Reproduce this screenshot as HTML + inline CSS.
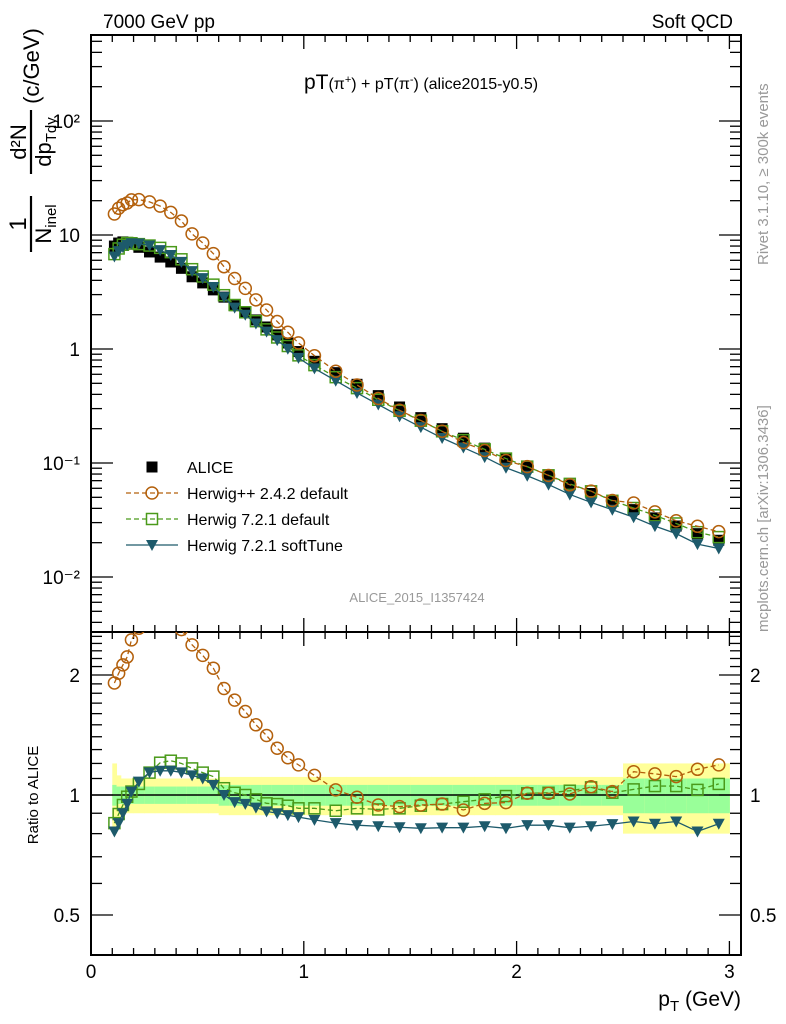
<!DOCTYPE html>
<html><head><meta charset="utf-8"><style>
html,body{margin:0;padding:0;background:#fff;}
svg{display:block;font-family:"Liberation Sans",sans-serif;}
</style></head><body>
<svg id="chart" width="786" height="1024" viewBox="0 0 786 1024" xmlns="http://www.w3.org/2000/svg">
<g id="bands"></g>
<g id="grid"></g>
<g id="series"></g>
<text x="103" y="28" font-size="19">7000 GeV pp</text>
<text x="733" y="28" font-size="19" text-anchor="end">Soft QCD</text>
<text x="421" y="89" font-size="21" text-anchor="middle">pT<tspan font-size="16">(π<tspan baseline-shift="super" font-size="11">+</tspan>) + pT(π<tspan baseline-shift="super" font-size="11">-</tspan>) (alice2015-y0.5)</tspan></text>
<text x="417" y="602" font-size="13" fill="#999" text-anchor="middle">ALICE_2015_I1357424</text>
<text transform="translate(768,265) rotate(-90)" font-size="15" fill="#999">Rivet 3.1.10, ≥ 300k events</text>
<text transform="translate(768,632) rotate(-90)" font-size="15" fill="#999">mcplots.cern.ch [arXiv:1306.3436]</text>
<g transform="translate(52,224) rotate(-90)">
<text x="0" y="-26" font-size="24" text-anchor="middle">1</text>
<line x1="-28" y1="-21" x2="28" y2="-21" stroke="#000" stroke-width="2.2"/>
<text x="0" y="-1" font-size="22" text-anchor="middle">N<tspan font-size="15" dy="5">inel</tspan></text>
<text x="82" y="-26" font-size="22" text-anchor="middle">d²N</text>
<line x1="50" y1="-21" x2="114" y2="-21" stroke="#000" stroke-width="2.2"/>
<text x="82" y="-1" font-size="22" text-anchor="middle">dp<tspan font-size="15" dy="5">T</tspan><tspan font-size="15">dy</tspan></text>
<text x="158" y="-13" font-size="22" text-anchor="middle">(c/GeV)</text>
</g>
<text transform="translate(38,795) rotate(-90)" font-size="15" text-anchor="middle">Ratio to ALICE</text>
<text x="741" y="1006" font-size="21" text-anchor="end">p<tspan font-size="15" dy="5">T</tspan><tspan dy="-5"> (GeV)</tspan></text>
<g id="legend"></g>
</svg>
<script>
const pt = [0.11,0.13,0.15,0.17,0.19,0.225,0.275,0.325,0.375,0.425,0.475,0.525,0.575,0.625,0.675,0.725,0.775,0.825,0.875,0.925,0.975,1.05,1.15,1.25,1.35,1.45,1.55,1.65,1.75,1.85,1.95,2.05,2.15,2.25,2.35,2.45,2.55,2.65,2.75,2.85,2.95];
const ptLo = [0.1,0.12,0.14,0.16,0.18,0.2,0.25,0.3,0.35,0.4,0.45,0.5,0.55,0.6,0.65,0.7,0.75,0.8,0.85,0.9,0.95,1.0,1.1,1.2,1.3,1.4,1.5,1.6,1.7,1.8,1.9,2.0,2.1,2.2,2.3,2.4,2.5,2.6,2.7,2.8,2.9];
const alice = [8.0,8.5,8.7,8.6,8.3,7.8,7.1,6.4,5.8,5.1,4.3,3.8,3.3,2.85,2.4,2.1,1.8,1.56,1.33,1.13,0.95,0.78,0.62,0.49,0.39,0.31,0.25,0.2,0.165,0.135,0.11,0.092,0.077,0.064,0.054,0.046,0.039,0.033,0.028,0.024,0.021];
const ratioHpp = [1.91,2.02,2.12,2.22,2.45,2.62,2.75,2.8,2.72,2.6,2.38,2.24,2.08,1.85,1.73,1.62,1.5,1.41,1.31,1.24,1.19,1.12,1.03,0.987,0.944,0.935,0.944,0.949,0.917,0.953,0.957,1.01,1.01,1.006,1.049,1.02,1.144,1.13,1.112,1.16,1.19];
const ratioH72 = [0.85,0.896,0.944,0.99,1.02,1.066,1.138,1.205,1.219,1.2,1.166,1.138,1.112,1.04,1.013,1.0,0.975,0.953,0.949,0.94,0.926,0.926,0.913,0.926,0.92,0.926,0.94,0.949,0.962,0.975,0.994,1.01,1.013,1.025,1.045,1.013,1.033,1.053,1.053,1.03,1.066];
const ratioSoft = [0.81,0.85,0.9,0.95,1.02,1.08,1.14,1.15,1.15,1.14,1.12,1.1,1.06,1.0,0.96,0.95,0.93,0.91,0.9,0.89,0.88,0.866,0.85,0.84,0.835,0.83,0.825,0.828,0.828,0.835,0.825,0.84,0.84,0.828,0.835,0.845,0.858,0.847,0.858,0.81,0.847];
const errTot = [0.2,0.12,0.1,0.1,0.1,0.1,0.1,0.1,0.1,0.1,0.1,0.1,0.1,0.11,0.11,0.11,0.11,0.11,0.11,0.11,0.11,0.11,0.11,0.11,0.11,0.11,0.11,0.11,0.11,0.11,0.11,0.11,0.11,0.11,0.11,0.11,0.2,0.2,0.2,0.2,0.2];
const errStat = [0.06,0.05,0.05,0.05,0.05,0.05,0.05,0.05,0.05,0.05,0.05,0.05,0.05,0.06,0.06,0.06,0.06,0.06,0.06,0.06,0.06,0.06,0.06,0.06,0.06,0.06,0.06,0.06,0.06,0.06,0.06,0.06,0.06,0.06,0.06,0.06,0.1,0.1,0.1,0.1,0.1];
const xTicks = [0,1,2,3];
const mainTicks = [2,1,0,-1,-2];
const ratioTicks = [2,1,0.5];

const NS="http://www.w3.org/2000/svg";
const L=91,R=741,T=35,MB=632,B=955;
const X=v=>L+v*212.8;
const Y=v=>349-Math.log10(v)*114;
const YR=v=>795-Math.log2(v)*120;
function el(tag,attrs,parent){const e=document.createElementNS(NS,tag);for(const k in attrs)e.setAttribute(k,attrs[k]);parent.appendChild(e);return e;}
const bands=document.getElementById('bands'),grid=document.getElementById('grid'),ser=document.getElementById('series'),leg=document.getElementById('legend');

pt.forEach((p,i)=>{
  const hi=(i<pt.length-1?ptLo[i+1]:3.0);
  const y=el('rect',{x:X(ptLo[i]),y:YR(1+errTot[i]),width:X(hi)-X(ptLo[i])+0.5,height:YR(1-errTot[i])-YR(1+errTot[i]),fill:'#ffff99'},bands);
  
  
  const g=el('rect',{x:X(ptLo[i]),y:YR(1+errStat[i]),width:X(hi)-X(ptLo[i])+0.5,height:YR(1-errStat[i])-YR(1+errStat[i]),fill:'#99ff99'},bands);
  
  
});
el('line',{x1:L,y1:YR(1),x2:R,y2:YR(1),stroke:'#000','stroke-width':1.5},bands);

el('rect',{x:L,y:T,width:R-L,height:MB-T,fill:'none',stroke:'#000','stroke-width':2},grid);
el('rect',{x:L,y:MB,width:R-L,height:B-MB,fill:'none',stroke:'#000','stroke-width':2},grid);
function tk(x1,y1,x2,y2){el('line',{x1,y1,x2,y2,stroke:'#000','stroke-width':1.3},grid);}
for(let i=0;i<=30;i++){const v=i/10,x=X(v);if(x>R)break;const len=(i%10==0)?14:7;
  [T,MB].forEach(t=>tk(x,t,x,t+len));[MB,B].forEach(b=>tk(x,b,x,b-len));}
xTicks.forEach(v=>{const t=el('text',{x:X(v),y:978,'font-size':19,'text-anchor':'middle'},grid);t.textContent=v;
  
  });
for(let d=-3;d<=2;d++)for(let m=1;m<=9;m++){const y=Y(m*Math.pow(10,d));if(y<T||y>MB)continue;const len=m==1?22:11;tk(L,y,L+len,y);tk(R,y,R-len,y);}
const sup={2:'²','-1':'⁻¹','-2':'⁻²'};
mainTicks.forEach(d=>{const t=el('text',{x:80,y:Y(Math.pow(10,d))+7,'font-size':19,'text-anchor':'end'},grid);
  t.textContent=d==0?'1':d==1?'10':'10'+sup[d];
  
  });
[0.5,0.6,0.7,0.8,0.9,1,1.1,1.2,1.3,1.4,1.5,1.6,1.7,1.8,1.9,2,2.1,2.2,2.3,2.4,2.5].forEach(v=>{const y=YR(v);const len=(v==0.5||v==1||v==2)?22:11;tk(L,y,L+len,y);tk(R,y,R-len,y);});
ratioTicks.forEach(v=>{
  const a=el('text',{x:80,y:YR(v)+7,'font-size':19,'text-anchor':'end'},grid);a.textContent=v;
  
  
  const b=el('text',{x:750,y:YR(v)+7,'font-size':19},grid);b.textContent=v;
  
  });

const cO='#b3600c',cG='#4a9a1a',cT='#1d5a6b';
function marker(kind,x,y,parent){
  let m;
  if(kind=='alice')m=el('rect',{x:x-5.5,y:y-5.5,width:11,height:11,fill:'#000'},parent);
  else if(kind=='hpp')m=el('circle',{cx:x,cy:y,r:6,fill:'none',stroke:cO,'stroke-width':1.5},parent);
  else if(kind=='h72')m=el('rect',{x:x-5.5,y:y-5.5,width:11,height:11,fill:'none',stroke:cG,'stroke-width':1.5},parent);
  else m=el('path',{d:`M${x-6},${y-5}L${x+6},${y-5}L${x},${y+6}Z`,fill:cT},parent);
  return m;
}
const clipM=el('clipPath',{id:'cm'},ser);el('rect',{x:L,y:T,width:R-L,height:MB-T},clipM);
const clipR=el('clipPath',{id:'cr'},ser);el('rect',{x:L,y:MB,width:R-L,height:B-MB},clipR);
const gm=el('g',{'clip-path':'url(#cm)'},ser),gr=el('g',{'clip-path':'url(#cr)'},ser);
const series=[
 {k:'h72',r:ratioH72,c:cG,dash:'5,3',name:'herwig-7-2-1-default'},
 {k:'soft',r:ratioSoft,c:cT,dash:'',name:'herwig-7-2-1-softtune'},
 {k:'hpp',r:ratioHpp,c:cO,dash:'5,3',name:'herwig-pp-2-4-2-default'}];
pt.forEach((p,i)=>{const m=marker('alice',X(p),Y(alice[i]),gm);
  
  });
series.forEach(s=>{
  const vals=pt.map((p,i)=>alice[i]*s.r[i]);
  const pm=el('polyline',{points:pt.map((p,i)=>X(p)+','+Y(vals[i])).join(' '),fill:'none',stroke:s.c,'stroke-width':1.3,'stroke-dasharray':s.dash},gm);
  
  
  const pr=el('polyline',{points:pt.map((p,i)=>X(p)+','+YR(s.r[i])).join(' '),fill:'none',stroke:s.c,'stroke-width':1.3,'stroke-dasharray':s.dash},gr);
  
  
  pt.forEach((p,i)=>{
    const a=marker(s.k,X(p),Y(vals[i]),gm);
    
    
    const b=marker(s.k,X(p),YR(s.r[i]),gr);
    
    
  });
});
const legItems=[['alice','ALICE','',''],['hpp','Herwig++ 2.4.2 default',cO,'5,3'],['h72','Herwig 7.2.1 default',cG,'5,3'],['soft','Herwig 7.2.1 softTune',cT,'']];
legItems.forEach((it,i)=>{const y=467+i*26;
  const g=el('g',{},leg);
  
  
  if(it[2])el('line',{x1:126,y1:y,x2:178,y2:y,stroke:it[2],'stroke-width':1.3,'stroke-dasharray':it[3]},g);
  marker(it[0],152,y,g);
  const t=el('text',{x:187,y:y+6,'font-size':16},g);t.textContent=it[1];});
</script>
</body></html>
